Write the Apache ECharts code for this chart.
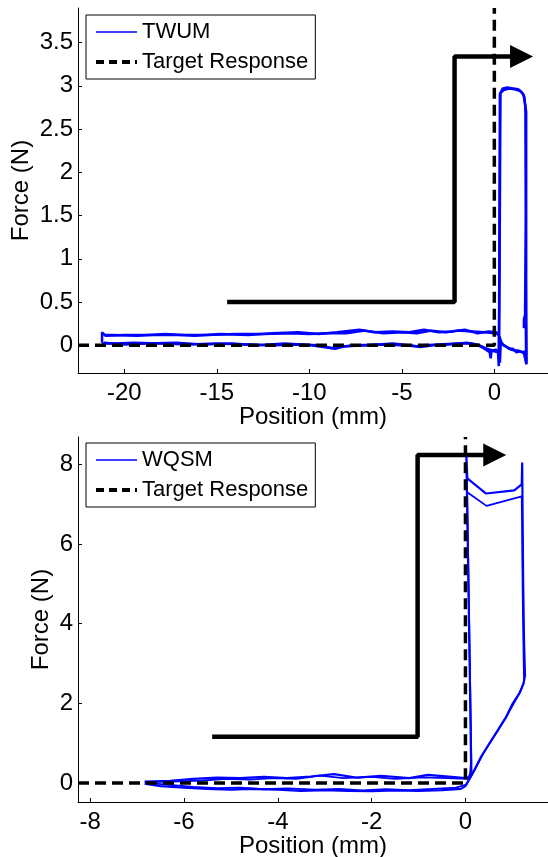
<!DOCTYPE html>
<html>
<head>
<meta charset="utf-8">
<script src="https://cdn.jsdelivr.net/npm/echarts@6/dist/echarts.min.js"></script>
<style>
html,body{margin:0;padding:0;background:#fff;}
#chart{width:548px;height:857px;}
</style>
</head>
<body>
<div id="chart"></div>
<script>
// ---------- Top panel (TWUM) ----------
const topXTicks = [-20, -15, -10, -5, 0];
const topYTicks = [0, 0.5, 1, 1.5, 2, 2.5, 3, 3.5];
const topXRange = [-22.5, 2.9];
const topYRange = [-0.32, 3.9];
const twumCycle1 = [
  [-21.2, 0.02], [-20.5, 0.02], [-19.5, 0.03], [-18.0, 0.02], [-16.5, 0.01], [-15.0, 0.02],
  [-13.5, 0.01], [-12.0, 0.0], [-10.5, 0.01], [-9.5, 0.0], [-8.8, -0.03], [-8.4, -0.02],
  [-7.5, 0.0], [-6.0, 0.01], [-5.0, 0.0], [-4.2, -0.01], [-3.8, 0.0], [-3.0, 0.01],
  [-2.0, 0.02], [-1.2, 0.02], [-0.8, 0.0], [-0.4, -0.04], [-0.1, -0.06], [0.1, -0.05],
  [0.25, -0.1], [0.27, 1.0], [0.3, 2.9], [0.45, 2.97], [0.7, 2.98], [1.0, 2.97],
  [1.3, 2.96], [1.5, 2.92], [1.62, 2.87], [1.68, 2.75], [1.7, 1.5], [1.66, 0.35],
  [1.6, 0.3], [1.6, 0.2], [1.7, 0.25], [1.72, -0.2], [1.68, -0.07], [1.5, -0.08],
  [1.3, -0.06], [1.1, -0.06], [0.9, -0.05], [0.7, -0.02], [0.5, 0.0], [0.35, 0.04],
  [0.3, -0.2], [0.25, 0.13], [0.0, 0.14], [-0.5, 0.15], [-1.2, 0.16], [-2.0, 0.17],
  [-2.6, 0.15], [-3.4, 0.17], [-4.2, 0.14], [-5.0, 0.15], [-6.0, 0.14], [-7.0, 0.17],
  [-8.0, 0.14], [-9.0, 0.14], [-10.0, 0.13], [-11.0, 0.14], [-12.5, 0.13], [-14.0, 0.13],
  [-15.5, 0.12], [-17.0, 0.12], [-18.5, 0.12], [-20.0, 0.12], [-21.0, 0.11], [-21.2, 0.15],
  [-21.2, 0.03]
];
const twumCycle2 = [
  [-21.1, 0.03], [-20.0, 0.01], [-18.8, 0.02], [-17.2, 0.03], [-15.8, 0.01], [-14.2, 0.02],
  [-12.8, 0.0], [-11.3, 0.02], [-9.9, 0.0], [-8.6, -0.04], [-8.1, -0.01], [-6.8, 0.0],
  [-5.5, 0.02], [-4.6, 0.0], [-4.0, -0.02], [-3.3, 0.0], [-2.5, 0.01], [-1.5, 0.03],
  [-1.0, 0.01], [-0.6, -0.03], [-0.25, -0.08], [-0.2, -0.15], [-0.15, -0.06], [0.2, -0.08],
  [0.24, -0.24], [0.28, 0.8], [0.33, 2.92], [0.5, 2.95], [0.8, 2.97], [1.1, 2.96],
  [1.4, 2.94], [1.58, 2.9], [1.65, 2.8], [1.72, 2.7], [1.72, 0.8], [1.74, -0.22],
  [1.6, -0.09], [1.4, -0.07], [1.2, -0.08], [1.0, -0.04], [0.8, -0.04], [0.6, -0.01],
  [0.4, 0.02], [0.28, 0.1], [0.1, 0.15], [-0.3, 0.16], [-0.9, 0.14], [-1.6, 0.18],
  [-2.3, 0.16], [-3.0, 0.15], [-3.8, 0.18], [-4.6, 0.15], [-5.5, 0.16], [-6.5, 0.15],
  [-7.3, 0.18], [-8.5, 0.15], [-9.5, 0.13], [-10.6, 0.15], [-12.0, 0.14], [-13.3, 0.12],
  [-14.8, 0.13], [-16.2, 0.11], [-17.8, 0.13], [-19.3, 0.11], [-20.6, 0.12], [-21.1, 0.12]
];
const topTarget = [[-22.5, 0], [0, 0], [0, 3.9]];
const topArrow = [[-14.44, 0.5], [-2.15, 0.5], [-2.15, 3.34], [1.47, 3.34]];

// ---------- Bottom panel (WQSM) ----------
const botXTicks = [-8, -6, -4, -2, 0];
const botYTicks = [0, 2, 4, 6, 8];
const botXRange = [-8.26, 1.76];
const botYRange = [-0.48, 8.69];
const wqsmCycle1 = [
  [-6.84, -0.02], [-6.5, -0.08], [-6.0, -0.12], [-5.5, -0.15], [-5.0, -0.17], [-4.6, -0.15],
  [-4.0, -0.17], [-3.5, -0.2], [-3.0, -0.18], [-2.5, -0.2], [-2.0, -0.21], [-1.5, -0.19],
  [-1.0, -0.2], [-0.5, -0.18], [-0.1, -0.15], [0.0, -0.08], [0.07, 0.07], [0.19, 0.32],
  [0.33, 0.65], [0.51, 0.99], [0.69, 1.32], [0.87, 1.66], [1.01, 2.0], [1.15, 2.25],
  [1.24, 2.5], [1.27, 2.7], [1.25, 3.5], [1.23, 5.1], [1.22, 6.5], [1.21, 8.05],
  [1.2, 7.5], [1.04, 7.35], [0.44, 7.27], [0.04, 7.65], [0.02, 8.2], [0.05, 6.0],
  [0.09, 3.0], [0.12, 0.5], [0.1, 0.15], [0.0, 0.12], [-0.3, 0.15], [-0.8, 0.2],
  [-1.2, 0.12], [-1.8, 0.18], [-2.3, 0.13], [-2.8, 0.22], [-3.3, 0.16], [-3.8, 0.12],
  [-4.3, 0.15], [-4.8, 0.12], [-5.3, 0.13], [-5.8, 0.1], [-6.3, 0.05], [-6.84, 0.03]
];
const wqsmCycle2 = [
  [-6.8, 0.0], [-6.3, -0.05], [-5.8, -0.1], [-5.3, -0.13], [-4.8, -0.12], [-4.3, -0.16],
  [-3.8, -0.14], [-3.2, -0.17], [-2.7, -0.15], [-2.2, -0.19], [-1.7, -0.16], [-1.2, -0.18],
  [-0.7, -0.15], [-0.2, -0.12], [0.02, -0.04], [0.1, 0.12], [0.22, 0.38], [0.37, 0.72],
  [0.55, 1.06], [0.73, 1.4], [0.9, 1.72], [1.06, 2.06], [1.18, 2.32], [1.25, 2.55],
  [1.24, 3.2], [1.22, 4.8], [1.21, 6.2], [1.2, 7.2], [0.45, 6.96], [0.03, 7.31],
  [0.03, 7.8], [0.06, 5.5], [0.1, 2.5], [0.13, 0.3], [0.05, 0.1], [-0.4, 0.12],
  [-0.9, 0.14], [-1.5, 0.1], [-2.0, 0.15], [-2.6, 0.12], [-3.1, 0.18], [-3.6, 0.1],
  [-4.1, 0.12], [-4.6, 0.08], [-5.1, 0.1], [-5.6, 0.06], [-6.1, 0.04], [-6.8, 0.02]
];
const botTarget = [[-8.26, 0], [0, 0], [0, 8.69]];
const botArrow = [[-5.40, 1.16], [-1.02, 1.16], [-1.02, 8.24], [0.625, 8.24]];

const FONT = 'Liberation Sans';
const FS = 24;
const LFS = 22;

function arrowData(pts) {
  return pts.map((p, i) => i === pts.length - 1
    ? { value: p, symbol: 'triangle', symbolSize: [23, 23], symbolRotate: -90, itemStyle: { color: '#000' } }
    : { value: p, symbol: 'none' });
}

function xAxisCfg(gridIndex, range, ticks) {
  return {
    type: 'value', gridIndex, min: range[0], max: range[1],
    name: 'Position (mm)', nameLocation: 'middle', nameGap: 32, nameMoveOverlap: false,
    nameTextStyle: { fontFamily: FONT, fontSize: FS, color: '#000' },
    splitLine: { show: false },
    axisLine: { show: true, onZero: false, lineStyle: { color: '#000', width: 1 } },
    axisTick: { show: true, inside: true, length: 4, customValues: ticks, lineStyle: { color: '#000' } },
    axisLabel: { customValues: ticks, margin: 8, fontFamily: FONT, fontSize: FS, color: '#000' }
  };
}
function yAxisCfg(gridIndex, range, ticks, gap) {
  return {
    type: 'value', gridIndex, min: range[0], max: range[1],
    name: 'Force (N)', nameLocation: 'middle', nameGap: gap, nameMoveOverlap: false,
    nameTextStyle: { fontFamily: FONT, fontSize: FS, color: '#000' },
    splitLine: { show: false },
    axisLine: { show: true, onZero: false, lineStyle: { color: '#000', width: 1 } },
    axisTick: { show: true, inside: true, length: 4, customValues: ticks, lineStyle: { color: '#000' } },
    axisLabel: { customValues: ticks, margin: 5, fontFamily: FONT, fontSize: FS, color: '#000' }
  };
}
function legendCfg(top, name) {
  return {
    orient: 'vertical', left: 86, top: top,
    padding: [6, 7, 6, 8], itemGap: 8, itemWidth: 41, itemHeight: 14,
    borderColor: '#000', borderWidth: 1, backgroundColor: '#fff',
    textStyle: { fontFamily: FONT, fontSize: LFS, color: '#000' },
    selectedMode: false,
    itemStyle: { opacity: 0, borderWidth: 0 },
    data: [
      { name: name, lineStyle: { width: 1.5 }, itemStyle: { opacity: 0, borderWidth: 0 } },
      { name: 'Target Response', lineStyle: { width: 4, type: [8, 5] }, itemStyle: { opacity: 0, borderWidth: 0 } }
    ]
  };
}

const chart = echarts.init(document.getElementById('chart'), null, { renderer: 'canvas' });
chart.setOption({
  animation: false,
  backgroundColor: '#fff',
  grid: [
    { left: 78, top: 8, width: 470, height: 365, containLabel: false, outerBoundsMode: 'none' },
    { left: 78, top: 437, width: 470, height: 365, containLabel: false, outerBoundsMode: 'none' }
  ],
  xAxis: [xAxisCfg(0, topXRange, topXTicks), xAxisCfg(1, botXRange, botXTicks)],
  yAxis: [yAxisCfg(0, topYRange, topYTicks, 45), yAxisCfg(1, botYRange, botYTicks, 25)],
  legend: [legendCfg(15, 'TWUM'), legendCfg(443, 'WQSM')],
  series: [
    { type: 'line', name: 'arrow1', xAxisIndex: 0, yAxisIndex: 0, data: arrowData(topArrow),
      lineStyle: { color: '#000', width: 4.5 }, itemStyle: { color: '#000' }, z: 2 },
    { type: 'line', name: 'TWUM', xAxisIndex: 0, yAxisIndex: 0, data: twumCycle1, symbol: 'none',
      lineStyle: { color: '#0000ff', width: 2.5 }, itemStyle: { color: '#0000ff' }, z: 3 },
    { type: 'line', name: 'TWUM', xAxisIndex: 0, yAxisIndex: 0, data: twumCycle2, symbol: 'none',
      lineStyle: { color: '#0000ff', width: 2.5 }, itemStyle: { color: '#0000ff' }, z: 3 },
    { type: 'line', name: 'Target Response', xAxisIndex: 0, yAxisIndex: 0, data: topTarget, symbol: 'none',
      lineStyle: { color: '#000', width: 3.5, type: [11, 6] }, itemStyle: { color: '#000' }, z: 4 },

    { type: 'line', name: 'arrow2', xAxisIndex: 1, yAxisIndex: 1, data: arrowData(botArrow),
      lineStyle: { color: '#000', width: 4.5 }, itemStyle: { color: '#000' }, z: 2 },
    { type: 'line', name: 'WQSM', xAxisIndex: 1, yAxisIndex: 1, data: wqsmCycle1, symbol: 'none',
      lineStyle: { color: '#0000ff', width: 2.2 }, itemStyle: { color: '#0000ff' }, z: 3 },
    { type: 'line', name: 'WQSM', xAxisIndex: 1, yAxisIndex: 1, data: wqsmCycle2, symbol: 'none',
      lineStyle: { color: '#0000ff', width: 1.8 }, itemStyle: { color: '#0000ff' }, z: 3 },
    { type: 'line', name: 'Target Response', xAxisIndex: 1, yAxisIndex: 1, data: botTarget, symbol: 'none',
      lineStyle: { color: '#000', width: 3.5, type: [11, 6] }, itemStyle: { color: '#000' }, z: 4 }
  ]
});
</script>
</body>
</html>
